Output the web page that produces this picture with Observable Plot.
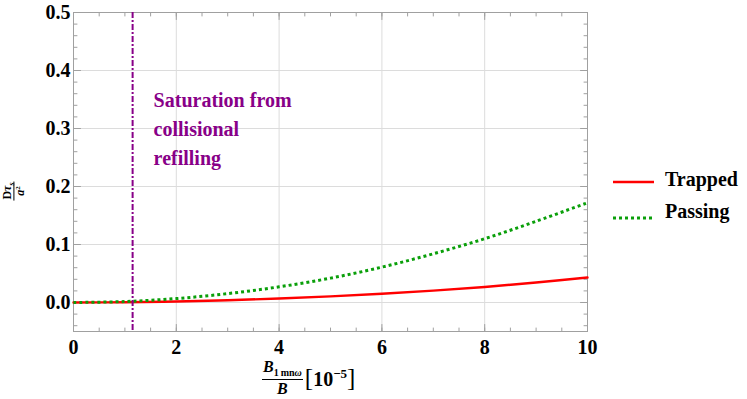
<!DOCTYPE html>
<html><head><meta charset="utf-8">
<script src="https://cdn.jsdelivr.net/npm/d3@7"></script>
<script src="https://cdn.jsdelivr.net/npm/@observablehq/plot@0.6"></script>
<style>
body{margin:0;background:#fff;}
#wrap{position:relative;width:747px;height:399px;font-family:"Liberation Serif","Times New Roman",Times,Tinos,"Noto Serif","FreeSerif","Nimbus Roman","DejaVu Serif",serif;font-weight:bold;color:#000;}
#wrap svg{display:block;}
.abs{position:absolute;}
.frac{display:inline-flex;flex-direction:column;align-items:center;line-height:1;}
.frac .num{padding:0 1px 1px 1px;border-bottom:1px solid #000;}
.frac .den{padding-top:1px;}
.legend-item{position:absolute;display:flex;align-items:center;font-size:20px;}
.legend-item svg{margin-right:11px;}
</style></head><body><div id="wrap"></div>
<script>
// ---- data ----
const xValues = [0, 1, 2, 3, 4, 5, 6, 7, 8, 9, 10];
const passing = [0, 0.0017, 0.0068, 0.0153, 0.027, 0.042, 0.061, 0.084, 0.110, 0.140, 0.172];
const trapped = [0, 0.0004, 0.0017, 0.0039, 0.0068, 0.0105, 0.0150, 0.0205, 0.0268, 0.0345, 0.043];
const seriesNames = ["Trapped", "Passing"];
const seriesColors = ["#ff0000", "#0a9f0a"];
const saturationX = 1.15;
const annotationLines = ["Saturation from", "collisional", "refilling"];
const annotationColor = "#880088";
const xTicks = [0, 2, 4, 6, 8, 10];
const yTicks = [0.0, 0.1, 0.2, 0.3, 0.4, 0.5];
const xDomain = [0, 10];
const yDomain = [-0.05, 0.5];
const xMinorTicks = d3.range(0, 10.001, 0.5);
const yMinorTicks = d3.range(-0.04, 0.5001, 0.02);

const serif = '"Liberation Serif","Times New Roman",Times,Tinos,"Noto Serif",FreeSerif,"Nimbus Roman","DejaVu Serif",serif';
const rows = xValues.map((x, i) => ({x, passing: passing[i], trapped: trapped[i]}));

const tickShape = {draw(ctx, l) { ctx.moveTo(0, 0); ctx.lineTo(0, -l); }};
const frameGray = "#a0a0a0";
function ticks(values, ch, anchor, rotate, len) {
  return Plot.vector(values, {[ch]: d => d, frameAnchor: anchor, rotate, length: len,
    anchor: "start", shape: tickShape, stroke: frameGray, strokeWidth: 1});
}

const chart = Plot.plot({
  width: 747, height: 399,
  marginLeft: 73, marginRight: 160, marginTop: 12, marginBottom: 68,
  x: {domain: xDomain},
  y: {domain: yDomain},
  style: {fontFamily: serif, fontWeight: "bold", fontSize: "20px", color: "#000", background: "#fff"},
  marks: [
    Plot.gridX(xTicks.slice(1, -1), {stroke: "#dcdcdc", strokeOpacity: 1}),
    Plot.gridY(yTicks.slice(0, -1), {stroke: "#dcdcdc", strokeOpacity: 1}),
    ticks(yMinorTicks, "y", "left", 90, 3.5),
    ticks(yMinorTicks, "y", "right", -90, 3.5),
    ticks(xMinorTicks, "x", "bottom", 0, 3.5),
    ticks(xMinorTicks, "x", "top", 180, 3.5),
    ticks(yTicks, "y", "left", 90, 7),
    ticks(yTicks, "y", "right", -90, 7),
    ticks(xTicks, "x", "bottom", 0, 7),
    ticks(xTicks, "x", "top", 180, 7),
    Plot.frame({stroke: frameGray}),
    Plot.axisX(xTicks, {tickSize: 0, tickPadding: 8, label: null, tickFormat: d => String(d), fontSize: 20, fontFamily: serif, fontWeight: "bold"}),
    Plot.axisY(yTicks, {tickSize: 0, tickPadding: 3, label: null, tickFormat: d3.format(".1f"), fontSize: 20, fontFamily: serif, fontWeight: "bold"}),
    Plot.line(rows, {x: "x", y: "trapped", stroke: seriesColors[0], strokeWidth: 2.4, curve: "catmull-rom"}),
    Plot.line(rows, {x: "x", y: "passing", stroke: seriesColors[1], strokeWidth: 3, strokeDasharray: "3,3", strokeLinecap: "butt", curve: "catmull-rom"}),
    Plot.ruleX([saturationX], {stroke: annotationColor, strokeWidth: 2, strokeDasharray: "6,2,2,2"}),
    Plot.text([annotationLines.join("\n")], {x: () => saturationX, frameAnchor: "top", dx: 21, dy: 74,
      textAnchor: "start", lineAnchor: "top", lineHeight: 1.45, fill: annotationColor, fontSize: 20, fontWeight: "bold", fontFamily: serif})
  ]
});

const wrap = document.getElementById("wrap");
wrap.appendChild(chart);

// y label (rotated fraction)
const ylab = document.createElement("div");
ylab.className = "abs";
ylab.style.cssText = "left:13px;top:191px;width:0;height:0;";
ylab.innerHTML = '<div style="position:absolute;left:0;top:0;transform:translate(-50%,-50%) rotate(-90deg);white-space:nowrap;font-size:12px;">' +
  '<span class="frac" style="line-height:0.8"><span class="num" style="padding:0 1px 0 1px">D<i>τ</i><span style="font-size:8px;position:relative;top:3px"><i>s</i></span></span>' +
  '<span class="den" style="padding-top:2px"><i>a</i><span style="font-size:7px;position:relative;top:-4px">2</span></span></span></div>';
wrap.appendChild(ylab);

// x label
const xlab = document.createElement("div");
xlab.className = "abs";
xlab.style.cssText = "left:262px;top:359px;display:flex;align-items:center;white-space:nowrap;";
xlab.innerHTML = '<span class="frac" style="font-size:16px"><span class="num"><i>B</i><sub style="font-size:10px">1&#8201;mn<i>ω</i></sub></span><span class="den"><i>B</i></span></span>' +
  '<span style="font-size:20px;margin-left:2px"><span style="font-size:25px;font-weight:normal">[</span>10<sup style="font-size:13px">−5</sup><span style="font-size:25px;font-weight:normal">]</span></span>';
wrap.appendChild(xlab);

// legend
const legendTop = [167, 199];
const legendLineY = [15, 19];
seriesNames.forEach((name, i) => {
  const item = document.createElement("div");
  item.className = "legend-item";
  item.style.left = "613px";
  item.style.top = legendTop[i] + "px";
  const dash = i === 1 ? 'stroke-dasharray="3,3" stroke-width="3"' : 'stroke-width="2.4"';
  item.innerHTML = `<svg width="41" height="24"><line x1="0" x2="41" y1="${legendLineY[i]}" y2="${legendLineY[i]}" stroke="${seriesColors[i]}" ${dash}/></svg><span>${name}</span>`;
  wrap.appendChild(item);
});
</script>
</body></html>
